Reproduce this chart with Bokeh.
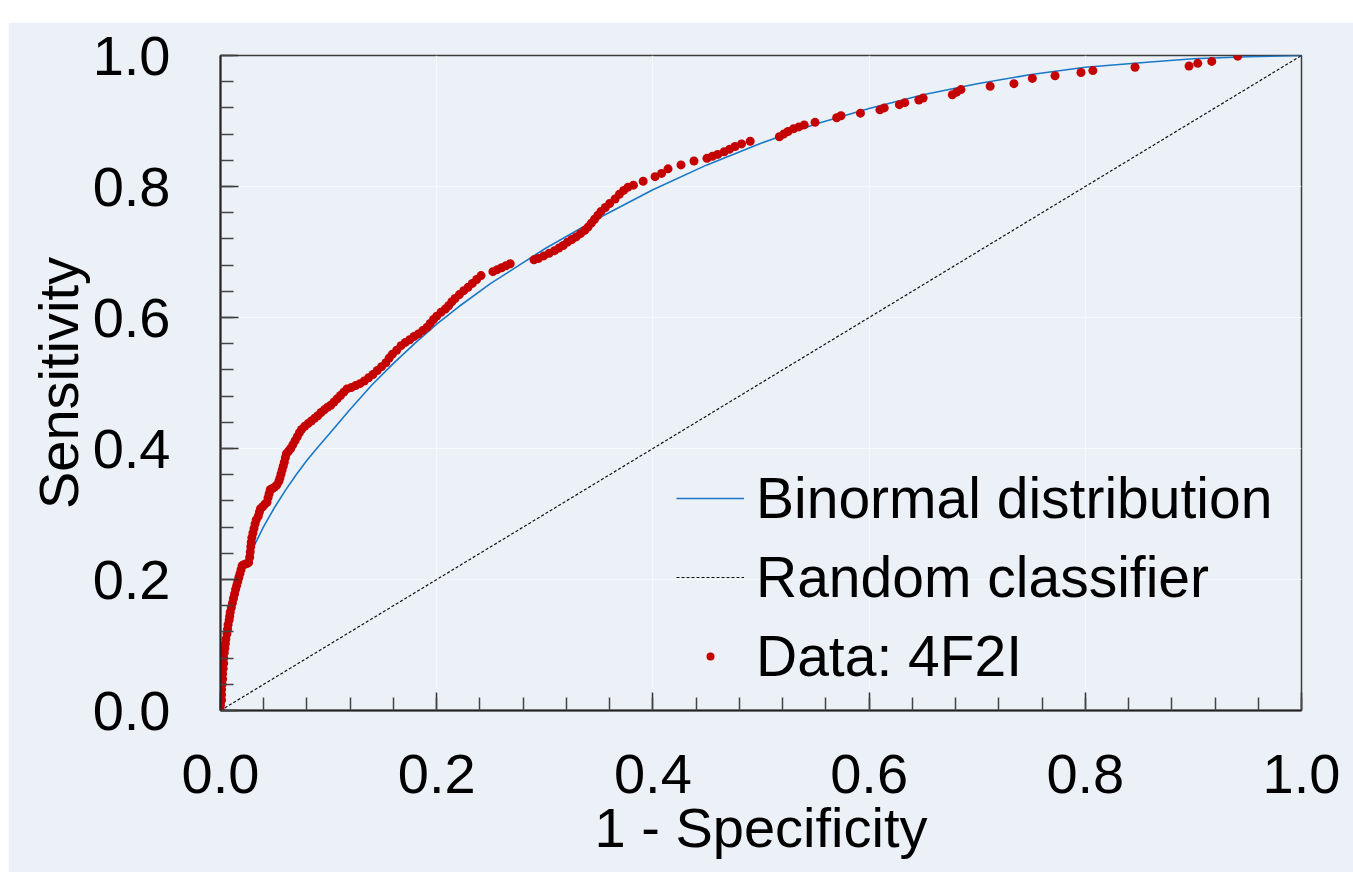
from bokeh.plotting import figure
from bokeh.models import (Legend, LegendItem, Spacer, Range1d,
                          SingleIntervalTicker, PrintfTickFormatter)
from bokeh.layouts import column, row
from bokeh.embed import file_html
from bokeh.resources import INLINE

# ---------------- data ----------------
x_label = "1 - Specificity"
y_label = "Sensitivity"
series_names = ["Binormal distribution", "Random classifier", "Data: 4F2I"]

binormal_fpr = [0.0, 0.0005, 0.002, 0.005, 0.01, 0.015, 0.02, 0.03, 0.04, 0.05,
                0.06, 0.07, 0.08, 0.09, 0.10, 0.12, 0.14, 0.16, 0.18, 0.20,
                0.22, 0.25, 0.30, 0.35, 0.40, 0.45, 0.50, 0.55, 0.60, 0.65,
                0.70, 0.75, 0.80, 0.86, 0.90, 0.95, 1.0]
binormal_tpr = [0.0, 0.060, 0.095, 0.130, 0.163, 0.188, 0.210, 0.248, 0.281, 0.310,
                0.336, 0.360, 0.382, 0.402, 0.421, 0.460, 0.497, 0.530, 0.561, 0.590,
                0.616, 0.652, 0.705, 0.752, 0.795, 0.833, 0.866, 0.895, 0.919, 0.940,
                0.957, 0.971, 0.982, 0.990, 0.995, 0.998, 1.0]

random_fpr = [0.0, 1.0]
random_tpr = [0.0, 1.0]

data_fpr = [
    0.000, 0.000, 0.001, 0.001, 0.001, 0.0015, 0.002, 0.002, 0.0025, 0.003, 0.003, 0.0035,
    0.004, 0.0045, 0.005, 0.006, 0.0065, 0.007, 0.008, 0.0085, 0.009, 0.010, 0.011, 0.012,
    0.013, 0.014, 0.015, 0.016, 0.017, 0.018, 0.019, 0.020, 0.022, 0.024, 0.026,
    0.027, 0.0275, 0.028, 0.0285, 0.029, 0.030, 0.031, 0.032, 0.033, 0.035, 0.036, 0.037,
    0.039, 0.041, 0.043, 0.044, 0.045, 0.046, 0.048, 0.050, 0.052, 0.054, 0.055, 0.056,
    0.057, 0.058, 0.059, 0.060, 0.061, 0.063, 0.065, 0.067, 0.069, 0.071, 0.073, 0.075,
    0.078, 0.081, 0.084, 0.087, 0.090, 0.093, 0.096, 0.099, 0.102, 0.105, 0.108, 0.111,
    0.114, 0.117, 0.121, 0.125, 0.129, 0.133, 0.137, 0.141, 0.145, 0.149, 0.153, 0.156,
    0.159, 0.163, 0.167, 0.171, 0.175, 0.179, 0.183, 0.187, 0.191, 0.194, 0.197, 0.200,
    0.204, 0.208, 0.211, 0.214, 0.217, 0.221, 0.225, 0.229, 0.233, 0.237, 0.241,
    0.252, 0.256, 0.260, 0.264, 0.268, 0.290, 0.294, 0.299, 0.304, 0.309, 0.313, 0.317,
    0.321, 0.325, 0.329, 0.333, 0.337, 0.340, 0.343, 0.346, 0.349, 0.352, 0.356, 0.360,
    0.365, 0.369, 0.373, 0.377, 0.382, 0.391, 0.402, 0.408, 0.414, 0.426, 0.438, 0.450,
    0.455, 0.460, 0.466, 0.471, 0.476, 0.482, 0.490, 0.517, 0.521, 0.525, 0.530, 0.535,
    0.540, 0.550, 0.570, 0.574, 0.592, 0.610, 0.614, 0.628, 0.633, 0.646, 0.650, 0.677,
    0.681, 0.685, 0.712, 0.734, 0.751, 0.772, 0.796, 0.807, 0.846, 0.896, 0.904, 0.917,
    0.941]
data_tpr = [
    0.000, 0.008, 0.016, 0.024, 0.032, 0.040, 0.048, 0.056, 0.064, 0.072, 0.080, 0.088,
    0.095, 0.102, 0.109, 0.117, 0.124, 0.131, 0.138, 0.144, 0.150, 0.157, 0.164, 0.171,
    0.178, 0.185, 0.191, 0.197, 0.203, 0.209, 0.215, 0.221, 0.223, 0.224, 0.226,
    0.234, 0.242, 0.250, 0.257, 0.264, 0.271, 0.278, 0.285, 0.291, 0.297, 0.303, 0.308,
    0.311, 0.315, 0.318, 0.325, 0.331, 0.337, 0.339, 0.341, 0.344, 0.350, 0.355, 0.361,
    0.367, 0.373, 0.379, 0.386, 0.392, 0.396, 0.400, 0.406, 0.412, 0.418, 0.424, 0.429,
    0.434, 0.438, 0.442, 0.446, 0.450, 0.455, 0.459, 0.463, 0.466, 0.471, 0.476, 0.481,
    0.486, 0.491, 0.493, 0.496, 0.499, 0.503, 0.508, 0.513, 0.519, 0.525, 0.531, 0.538,
    0.544, 0.550, 0.557, 0.562, 0.566, 0.571, 0.575, 0.580, 0.585, 0.591, 0.597, 0.602,
    0.608, 0.613, 0.618, 0.624, 0.629, 0.635, 0.641, 0.646, 0.652, 0.658, 0.664,
    0.670, 0.673, 0.676, 0.679, 0.682, 0.688, 0.690, 0.694, 0.698, 0.702, 0.706, 0.710,
    0.715, 0.719, 0.723, 0.728, 0.733, 0.738, 0.744, 0.750, 0.756, 0.762, 0.768, 0.774,
    0.781, 0.788, 0.794, 0.799, 0.802, 0.808, 0.815, 0.820, 0.827, 0.833, 0.839, 0.843,
    0.846, 0.849, 0.853, 0.857, 0.861, 0.865, 0.869, 0.876, 0.880, 0.884, 0.888, 0.891,
    0.894, 0.898, 0.905, 0.908, 0.912, 0.917, 0.920, 0.925, 0.928, 0.932, 0.935, 0.940,
    0.944, 0.948, 0.953, 0.957, 0.965, 0.969, 0.974, 0.977, 0.982, 0.984, 0.988, 0.991,
    0.999]

# ---------------- styling ----------------
FONT = "Liberation Sans"
BG = "#ECF0F7"
TXT = "#000000"

p = figure(width=1345, height=850,
           x_range=Range1d(0, 1), y_range=Range1d(0, 1),
           output_backend="svg", toolbar_location=None,
           min_border_left=212, min_border_right=52,
           min_border_top=33, min_border_bottom=162,
           background_fill_color=BG, border_fill_color=BG)

p.outline_line_color = "#3c3c3c"
p.outline_line_width = 1.5

for ax in (p.xaxis[0], p.yaxis[0]):
    ax.ticker = SingleIntervalTicker(interval=0.2, num_minor_ticks=5)
    ax.formatter = PrintfTickFormatter(format="%.1f")
    ax.axis_line_color = "#222222"
    ax.axis_line_width = 2
    ax.major_tick_in = 18
    ax.major_tick_out = 0
    ax.minor_tick_in = 13
    ax.minor_tick_out = 0
    ax.major_tick_line_color = "#333333"
    ax.minor_tick_line_color = "#444444"
    ax.major_tick_line_width = 1.5
    ax.minor_tick_line_width = 1.5
    ax.major_label_text_font = FONT
    ax.major_label_text_font_size = "56px"
    ax.major_label_text_color = TXT
    ax.axis_label_text_font = FONT
    ax.axis_label_text_font_size = "56px"
    ax.axis_label_text_font_style = "normal"
    ax.axis_label_text_color = TXT

p.xaxis.axis_label = x_label
p.yaxis.axis_label = y_label
p.xaxis.major_label_standoff = 44
p.xaxis.axis_label_standoff = 0
p.yaxis.major_label_standoff = 50
p.yaxis.axis_label_standoff = 0

p.grid.grid_line_color = "#F6F8FB"
p.grid.grid_line_width = 1.2
p.xgrid.ticker = SingleIntervalTicker(interval=0.2)
p.ygrid.ticker = SingleIntervalTicker(interval=0.2)

r_rand = p.line(random_fpr, random_tpr, line_color="#111111", line_width=1.2, line_dash="3 2")
r_bin = p.line(binormal_fpr, binormal_tpr, line_color="#1A78C8", line_width=1.6)
r_data = p.scatter(data_fpr, data_tpr, marker="circle", size=9,
                   fill_color="#C40000", line_color="#C40000", line_width=0)

legend = Legend(items=[LegendItem(label=series_names[0], renderers=[r_bin]),
                       LegendItem(label=series_names[1], renderers=[r_rand]),
                       LegendItem(label=series_names[2], renderers=[r_data])],
                location=(456, 15),
                label_text_font=FONT, label_text_font_size="57px",
                label_text_color=TXT,
                glyph_width=68, glyph_height=20, label_standoff=12,
                label_height=79, spacing=0, padding=0, margin=0,
                border_line_alpha=0, background_fill_alpha=0)
p.add_layout(legend)

layout = column(Spacer(width=1353, height=22),
                row(Spacer(width=8, height=850), p))
open("out.html", "w").write(file_html(layout, INLINE))
